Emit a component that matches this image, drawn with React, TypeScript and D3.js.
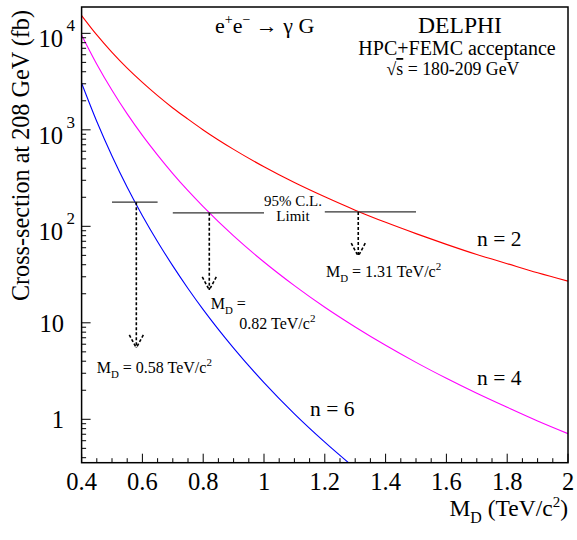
import React from 'react';
import * as d3 from 'd3';

// ---- data ----
const massGrid = [0.4, 0.45, 0.5, 0.55, 0.6, 0.65, 0.7, 0.75, 0.8, 0.9, 1.0, 1.1, 1.2, 1.3, 1.4, 1.5, 1.6, 1.7, 1.8, 1.9, 2.0];
const sigmaN2 = [15300, 9620, 6350, 4360, 3100, 2260, 1685, 1290, 997, 627, 414, 284, 202, 147, 110, 84, 65, 51, 41, 33, 27];
const sigmaN4 = [9600, 4790, 2570, 1462, 875, 547, 352, 234, 160, 79.6, 42.7, 24.3, 14.5, 9.06, 5.85, 3.89, 2.66, 1.86, 1.33, 0.96, 0.71];
const sigmaN6 = [3050, 1220, 536, 254, 129, 69.3, 38.9, 22.7, 13.7, 5.47, 2.4, 1.14, 0.58, 0.31];

const xTickValues = [0.4, 0.6, 0.8, 1.0, 1.2, 1.4, 1.6, 1.8, 2.0];
const xTickLabels = ['0.4', '0.6', '0.8', '1', '1.2', '1.4', '1.6', '1.8', '2'];
const yTickValues = [1, 10, 100, 1000, 10000];
const yTickBase = ['1', '10', '10', '10', '10'];
const yTickExp = ['', '', '2', '3', '4'];

const limitMass = [0.58, 0.82, 1.31];
const limitSigma = [178, 138, 141];
const limitFrom = [0.5, 0.7, 1.2];
const limitTo = [0.65, 1.0, 1.5];
const arrowTip = [5.5, 21.9, 49];

const FONT = '"Liberation Serif", "Times New Roman", serif';

export default function App() {
  const W = 577, H = 540;
  const left = 81.6, right = 568, top = 7, bottom = 462.7;
  const x = d3.scaleLinear().domain([0.4, 2.0]).range([left, right]);
  const y = d3.scaleLog().domain([0.355, 18750]).range([bottom, top]);

  const line = d3.line<[number, number]>()
    .x(d => x(d[0]))
    .y(d => y(d[1]))
    .curve(d3.curveMonotoneX);

  const pts = (vals: number[]) => vals.map((v, i) => [massGrid[i], v] as [number, number]);

  const xMinor: { v: number; major: boolean }[] = [];
  for (let i = 0; i <= 32; i++) xMinor.push({ v: 0.4 + i * 0.05, major: i % 4 === 0 });
  const yMinor: { v: number; major: boolean }[] = [];
  for (let d = -1; d <= 4; d++) {
    for (let k = 1; k <= 9; k++) {
      const v = k * Math.pow(10, d);
      if (v >= 0.355 && v <= 18750) yMinor.push({ v, major: k === 1 });
    }
  }

  const MD = (size: number) => [
    <tspan key="m">M</tspan>,
    <tspan key="d" fontSize={size * 0.68} dy={size * 0.3}>D</tspan>,
    <tspan key="r" dy={-size * 0.3}>{'\u00a0'}</tspan>,
  ];

  return (
    <svg width={W} height={H} style={{ position: 'absolute', left: 0, top: 0, background: '#fff' }} fontFamily={FONT}>
      <defs>
        <clipPath id="plotclip">
          <rect x={left} y={top} width={right - left} height={bottom - top} />
        </clipPath>
      </defs>
      <rect x={0} y={0} width={W} height={H} fill="#fff" />

      {/* curves */}
      <g clipPath="url(#plotclip)" fill="none" strokeWidth={1.1}>
        <path d={line(pts(sigmaN2)) || ''} stroke="#ff0000" />
        <path d={line(pts(sigmaN4)) || ''} stroke="#ff00ff" />
        <path d={line(pts(sigmaN6)) || ''} stroke="#0000ff" />
      </g>

      {/* limit lines and arrows */}
      {limitMass.map((m, i) => {
        const xm = x(m);
        const ys = y(limitSigma[i]);
        const yt = y(arrowTip[i]);
        return (
          <g key={i}>
            <line x1={x(limitFrom[i])} x2={x(limitTo[i])} y1={ys} y2={ys} stroke="#333" strokeWidth={1.2} />
            <g stroke="#000" strokeWidth={1.6} strokeDasharray="3,2" fill="none">
              <line x1={xm} x2={xm} y1={ys} y2={yt} />
              <line x1={xm - 7} x2={xm} y1={yt - 13} y2={yt} />
              <line x1={xm + 7} x2={xm} y1={yt - 13} y2={yt} />
            </g>
          </g>
        );
      })}

      {/* frame */}
      <rect x={left} y={top} width={right - left} height={bottom - top} fill="none" stroke="#000" strokeWidth={1.5} />

      {/* x ticks */}
      {xMinor.map((t, i) => (
        <line key={'xt' + i} x1={x(t.v)} x2={x(t.v)} y1={bottom} y2={bottom - (t.major ? 9 : 4.5)} stroke="#000" strokeWidth={1} />
      ))}
      {/* y ticks */}
      {yMinor.map((t, i) => (
        <line key={'yt' + i} x1={left} x2={left + (t.major ? 9 : 4.5)} y1={y(t.v)} y2={y(t.v)} stroke="#000" strokeWidth={1} />
      ))}

      {/* x tick labels */}
      {xTickValues.map((v, i) => (
        <text key={'xl' + i} x={x(v)} y={490} fontSize={24.5} textAnchor="middle" fill="#000">{xTickLabels[i]}</text>
      ))}

      {/* y tick labels */}
      {yTickValues.map((v, i) => {
        const ty = y(v);
        if (!yTickExp[i]) {
          return <text key={'yl' + i} x={64} y={ty + 9} fontSize={24.5} textAnchor="end" fill="#000">{yTickBase[i]}</text>;
        }
        return (
          <g key={'yl' + i}>
            <text x={63} y={ty + 14} fontSize={24.5} textAnchor="end" fill="#000">{yTickBase[i]}</text>
            <text x={66.5} y={ty - 2} fontSize={17} fill="#000">{yTickExp[i]}</text>
          </g>
        );
      })}

      {/* axis titles */}
      <text x={568} y={516} fontSize={23.5} textAnchor="end" fill="#000">
        {MD(23.5)}(TeV/c<tspan fontSize={15} dy={-9}>2</tspan><tspan dy={9}>)</tspan>
      </text>
      <text transform="translate(29,10) rotate(-90)" fontSize={24.2} textAnchor="end" fill="#000">
        Cross-section at 208 GeV (fb)
      </text>

      {/* header texts */}
      <text x={215} y={33} fontSize={22} fill="#000">
        e<tspan fontSize={14} dy={-9}>+</tspan><tspan dy={9}>e</tspan><tspan fontSize={14} dy={-9}>{'\u2212'}</tspan><tspan dy={9}>{' \u2192 \u03b3 G'}</tspan>
      </text>
      <text x={460} y={33.3} fontSize={23.6} textAnchor="middle" fill="#000">DELPHI</text>
      <text x={457} y={55} fontSize={20} textAnchor="middle" fill="#000">HPC+FEMC acceptance</text>
      <text x={453} y={75} fontSize={17.8} textAnchor="middle" fill="#000">
        {'\u221a'}<tspan style={{ textDecoration: 'overline' }}>s</tspan> = 180-209 GeV
      </text>

      {/* annotations */}
      <text x={293} y={205.8} fontSize={15} textAnchor="middle" fill="#000">95% C.L.</text>
      <text x={293} y={221} fontSize={15} textAnchor="middle" fill="#000">Limit</text>

      <text x={326} y={277} fontSize={16} fill="#000">
        {MD(16)}= 1.31 TeV/c<tspan fontSize={11} dy={-7}>2</tspan>
      </text>
      <text x={210.7} y={309.3} fontSize={16} fill="#000">
        {MD(16)}=
      </text>
      <text x={239.3} y={329.3} fontSize={16} fill="#000">
        0.82 TeV/c<tspan fontSize={11} dy={-7}>2</tspan>
      </text>
      <text x={96.7} y={373.3} fontSize={16} fill="#000">
        {MD(16)}= 0.58 TeV/c<tspan fontSize={11} dy={-7}>2</tspan>
      </text>

      <text x={477} y={246} fontSize={21.5} fill="#000">n = 2</text>
      <text x={477} y={385} fontSize={21.5} fill="#000">n = 4</text>
      <text x={310} y={416} fontSize={21.5} fill="#000">n = 6</text>
    </svg>
  );
}
